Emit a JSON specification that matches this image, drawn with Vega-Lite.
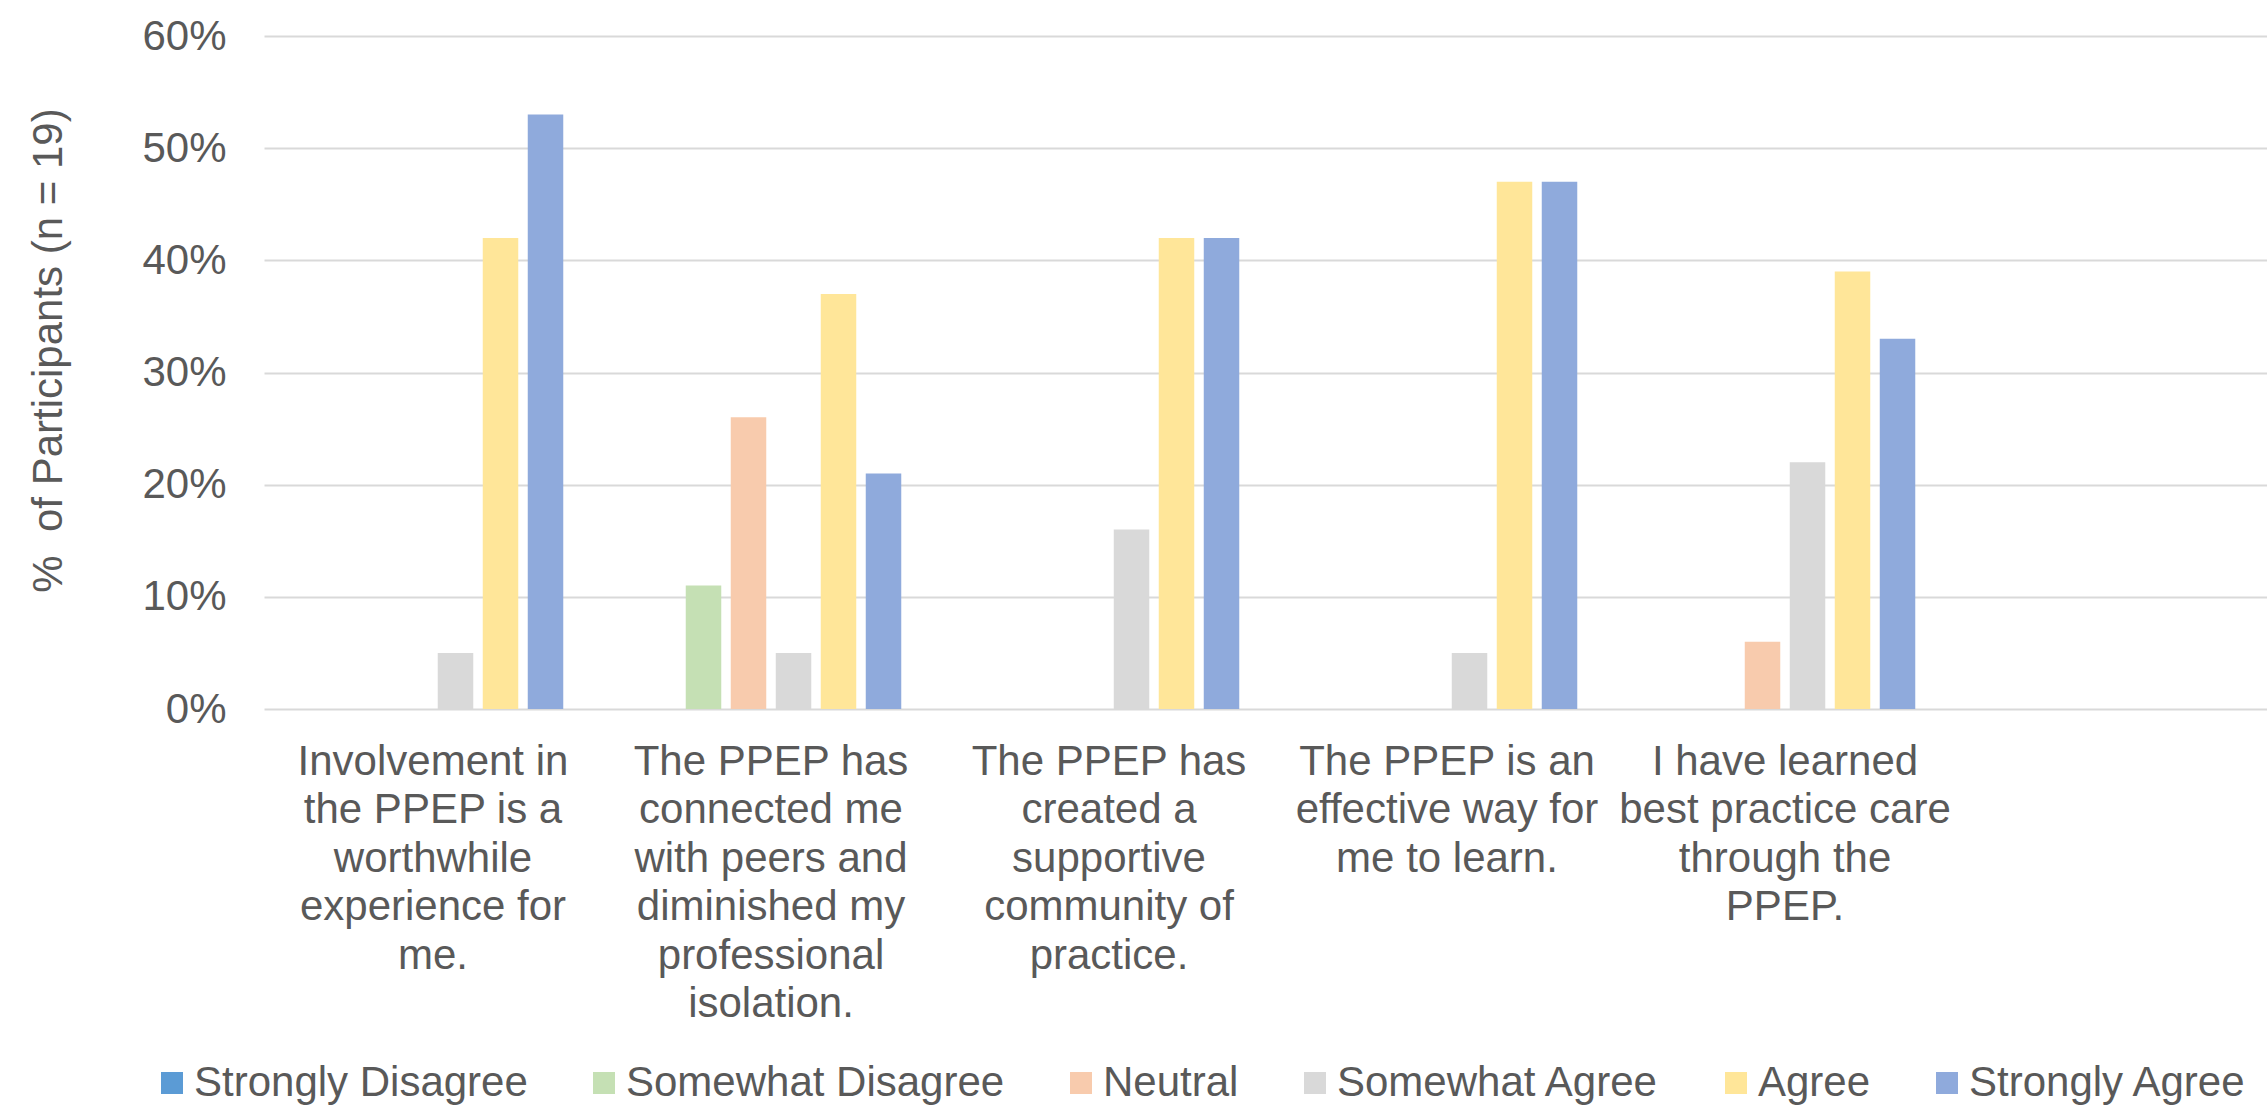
{
  "$schema": "https://vega.github.io/schema/vega-lite/v6.json",
  "autosize": {"type": "none"},
  "padding": {"left": 264, "top": 36, "right": 0, "bottom": 396},
  "width": 2003,
  "height": 673,
  "background": "white",
  "data": {
    "values": [
      {"statement": "Involvement in the PPEP is a worthwhile experience for me.", "response": "Strongly Disagree", "pct": 0},
      {"statement": "Involvement in the PPEP is a worthwhile experience for me.", "response": "Somewhat Disagree", "pct": 0},
      {"statement": "Involvement in the PPEP is a worthwhile experience for me.", "response": "Neutral", "pct": 0},
      {"statement": "Involvement in the PPEP is a worthwhile experience for me.", "response": "Somewhat Agree", "pct": 0.05},
      {"statement": "Involvement in the PPEP is a worthwhile experience for me.", "response": "Agree", "pct": 0.42},
      {"statement": "Involvement in the PPEP is a worthwhile experience for me.", "response": "Strongly Agree", "pct": 0.53},
      {"statement": "The PPEP has connected me with peers and diminished my professional isolation.", "response": "Strongly Disagree", "pct": 0},
      {"statement": "The PPEP has connected me with peers and diminished my professional isolation.", "response": "Somewhat Disagree", "pct": 0.11},
      {"statement": "The PPEP has connected me with peers and diminished my professional isolation.", "response": "Neutral", "pct": 0.26},
      {"statement": "The PPEP has connected me with peers and diminished my professional isolation.", "response": "Somewhat Agree", "pct": 0.05},
      {"statement": "The PPEP has connected me with peers and diminished my professional isolation.", "response": "Agree", "pct": 0.37},
      {"statement": "The PPEP has connected me with peers and diminished my professional isolation.", "response": "Strongly Agree", "pct": 0.21},
      {"statement": "The PPEP has created a supportive community of practice.", "response": "Strongly Disagree", "pct": 0},
      {"statement": "The PPEP has created a supportive community of practice.", "response": "Somewhat Disagree", "pct": 0},
      {"statement": "The PPEP has created a supportive community of practice.", "response": "Neutral", "pct": 0},
      {"statement": "The PPEP has created a supportive community of practice.", "response": "Somewhat Agree", "pct": 0.16},
      {"statement": "The PPEP has created a supportive community of practice.", "response": "Agree", "pct": 0.42},
      {"statement": "The PPEP has created a supportive community of practice.", "response": "Strongly Agree", "pct": 0.42},
      {"statement": "The PPEP is an effective way for me to learn.", "response": "Strongly Disagree", "pct": 0},
      {"statement": "The PPEP is an effective way for me to learn.", "response": "Somewhat Disagree", "pct": 0},
      {"statement": "The PPEP is an effective way for me to learn.", "response": "Neutral", "pct": 0},
      {"statement": "The PPEP is an effective way for me to learn.", "response": "Somewhat Agree", "pct": 0.05},
      {"statement": "The PPEP is an effective way for me to learn.", "response": "Agree", "pct": 0.47},
      {"statement": "The PPEP is an effective way for me to learn.", "response": "Strongly Agree", "pct": 0.47},
      {"statement": "I have learned best practice care through the PPEP.", "response": "Strongly Disagree", "pct": 0},
      {"statement": "I have learned best practice care through the PPEP.", "response": "Somewhat Disagree", "pct": 0},
      {"statement": "I have learned best practice care through the PPEP.", "response": "Neutral", "pct": 0.06},
      {"statement": "I have learned best practice care through the PPEP.", "response": "Somewhat Agree", "pct": 0.22},
      {"statement": "I have learned best practice care through the PPEP.", "response": "Agree", "pct": 0.39},
      {"statement": "I have learned best practice care through the PPEP.", "response": "Strongly Agree", "pct": 0.33}
    ]
  },
  "mark": {"type": "bar"},
  "encoding": {
    "x": {
      "field": "statement",
      "type": "nominal",
      "sort": null,
      "scale": {"paddingInner": 0, "paddingOuter": 0.463, "align": 0},
      "axis": {
        "title": null,
        "domain": false,
        "ticks": false,
        "grid": false,
        "labelAngle": 0,
        "labelAlign": "center",
        "labelBaseline": "top",
        "labelPadding": 32,
        "labelLineHeight": 48.5,
        "labelLimit": 0,
        "labelOverlap": false,
        "labelExpr": "datum.label == 'Involvement in the PPEP is a worthwhile experience for me.' ? ['Involvement in', 'the PPEP is a', 'worthwhile', 'experience for', 'me.'] : datum.label == 'The PPEP has connected me with peers and diminished my professional isolation.' ? ['The PPEP has', 'connected me', 'with peers and', 'diminished my', 'professional', 'isolation.'] : datum.label == 'The PPEP has created a supportive community of practice.' ? ['The PPEP has', 'created a', 'supportive', 'community of', 'practice.'] : datum.label == 'The PPEP is an effective way for me to learn.' ? ['The PPEP is an', 'effective way for', 'me to learn.'] : ['I have learned', 'best practice care', 'through the', 'PPEP.']"
      }
    },
    "xOffset": {
      "field": "response",
      "type": "nominal",
      "sort": ["Strongly Disagree", "Somewhat Disagree", "Neutral", "Somewhat Agree", "Agree", "Strongly Agree"],
      "scale": {"paddingInner": 0.211, "paddingOuter": 0.861}
    },
    "y": {
      "field": "pct",
      "type": "quantitative",
      "scale": {"domain": [0, 0.6], "nice": false},
      "axis": {
        "title": "%\u00a0 of Participants (n = 19)",
        "format": ".0%",
        "values": [0, 0.1, 0.2, 0.3, 0.4, 0.5, 0.6],
        "domain": false,
        "ticks": false,
        "grid": true,
        "gridColor": "#D9D9D9",
        "gridWidth": 2,
        "labelPadding": 38,
        "labelBaseline": "middle",
        "titleAngle": -90,
        "titleAlign": "center",
        "titleBaseline": "middle",
        "titleX": -216,
        "titleY": 314
      }
    },
    "color": {
      "field": "response",
      "type": "nominal",
      "scale": {
        "domain": ["Strongly Disagree", "Somewhat Disagree", "Neutral", "Somewhat Agree", "Agree", "Strongly Agree"],
        "range": ["#5B9BD5", "#C5E0B4", "#F8CBAD", "#D9D9D9", "#FFE699", "#8FAADC"]
      },
      "legend": {
        "title": null,
        "orient": "none",
        "direction": "horizontal",
        "columns": 6,
        "legendX": -113,
        "legendY": 1026,
        "padding": 0,
        "symbolType": "square",
        "symbolSize": 484,
        "symbolStrokeWidth": 0,
        "labelOffset": 1,
        "columnPadding": 55,
        "labelLimit": 0
      }
    }
  },
  "config": {
    "font": "Liberation Sans",
    "view": {"stroke": null},
    "axis": {
      "labelFont": "Liberation Sans",
      "labelFontSize": 42,
      "labelColor": "#595959",
      "titleFont": "Liberation Sans",
      "titleFontSize": 42,
      "titleFontWeight": "normal",
      "titleColor": "#595959"
    },
    "legend": {
      "labelFont": "Liberation Sans",
      "labelFontSize": 42,
      "labelColor": "#595959"
    }
  }
}
